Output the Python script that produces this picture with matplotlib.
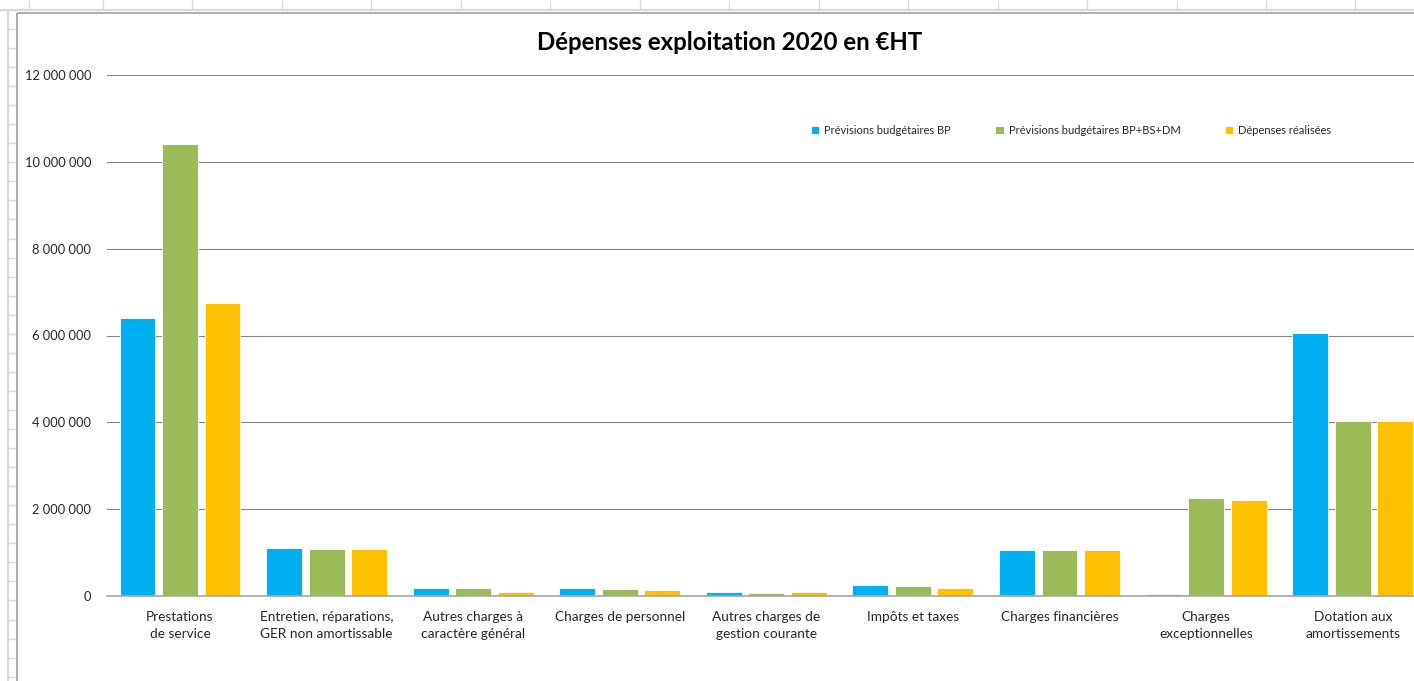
import numpy as np
import matplotlib
matplotlib.use("Agg")
import matplotlib.pyplot as plt
from matplotlib.lines import Line2D
from matplotlib.ticker import FuncFormatter

plt.rcParams['font.family'] = ['Lato', 'DejaVu Sans']

# données (en euros HT)
categories = [
    "Prestations\nde service",
    "Entretien, réparations,\nGER non amortissable",
    "Autres charges à\ncaractère général",
    "Charges de personnel",
    "Autres charges de\ngestion courante",
    "Impôts et taxes",
    "Charges financières",
    "Charges\nexceptionnelles",
    "Dotation aux\namortissements",
]
prev_bp = [6400000, 1110000, 190000, 190000, 90000, 250000, 1060000, 50000, 6060000]
prev_bp_bs_dm = [10410000, 1090000, 190000, 160000, 60000, 220000, 1060000, 2250000, 4020000]
depenses = [6760000, 1090000, 90000, 140000, 90000, 190000, 1060000, 2200000, 4020000]

series_names = ["Prévisions budgétaires BP", "Prévisions budgétaires BP+BS+DM", "Dépenses réalisées"]
colors = ["#00B0F0", "#9BBB59", "#FFC000"]
yticks = [0, 2000000, 4000000, 6000000, 8000000, 10000000, 12000000]

W, H = 1414, 681
fig = plt.figure(figsize=(W / 100, H / 100), dpi=100)


def fx(px):
    return px / W


def fy(py):
    return 1 - py / H


def line(x1, y1, x2, y2, color="#d9d9d9", lw=1.0):
    fig.add_artist(Line2D([fx(x1), fx(x2)], [fy(y1), fy(y2)], transform=fig.transFigure,
                          color=color, lw=lw, solid_capstyle="butt"))


# grille du tableur en arrière-plan
for cx in [29, 103, 192, 282, 371, 461, 550, 640, 729, 819, 908, 998, 1087, 1177, 1266, 1355]:
    line(cx, 0, cx, 10)
line(0, 10, W, 10, lw=1.6)
line(8, 10, 8, H, lw=1.6)
for ry in np.arange(29, H, 19.05):
    line(8, ry, 17, ry)
# bord de la zone graphique
line(17, 13, W, 13, color="#a6a6a6", lw=1.3)
line(17, 13, 17, H, color="#a6a6a6", lw=1.3)

left, right = 106.7, 1426.0
bottom, top = 596.0, 75.0
ax = fig.add_axes([fx(left), fy(bottom), (right - left) / W, (bottom - top) / H])

x = np.arange(len(categories))
step = 0.29
width = 0.245
for i, (vals, name, c) in enumerate(zip([prev_bp, prev_bp_bs_dm, depenses], series_names, colors)):
    ax.bar(x + (i - 1) * step, vals, width, color=c, label=name, edgecolor="white",
           linewidth=0.6, zorder=3)

ax.set_xlim(-0.5, len(categories) - 0.5)
ax.set_ylim(0, 12000000)
ax.set_yticks(yticks)
ax.yaxis.set_major_formatter(FuncFormatter(lambda v, p: f"{v:,.0f}".replace(",", " ")))
ax.grid(axis="y", color="#868686", lw=0.8, zorder=0)
ax.set_xticks(x)
ax.set_xticklabels(categories, fontsize=9.8, color="#262626", linespacing=1.45)
ax.tick_params(axis="y", length=0, pad=11, labelsize=9.3, labelcolor="#262626")
ax.tick_params(axis="x", length=0, pad=11)
for s in ["top", "right", "left"]:
    ax.spines[s].set_visible(False)
ax.spines["bottom"].set_color("#a6a6a6")
ax.spines["bottom"].set_linewidth(1.2)
ax.spines["bottom"].set_zorder(4)

fig.text(fx(730), fy(43), "Dépenses exploitation 2020 en €HT", ha="center", va="center",
         fontsize=17.3, fontweight="bold", color="black")

fig.legend(loc="center", bbox_to_anchor=(fx(1071), fy(130)), ncol=3, frameon=False,
           fontsize=8.0, handlelength=0.75, handleheight=0.75, handletextpad=0.45,
           columnspacing=4.0, labelcolor="#262626")

fig.savefig("out.png", dpi=100)
